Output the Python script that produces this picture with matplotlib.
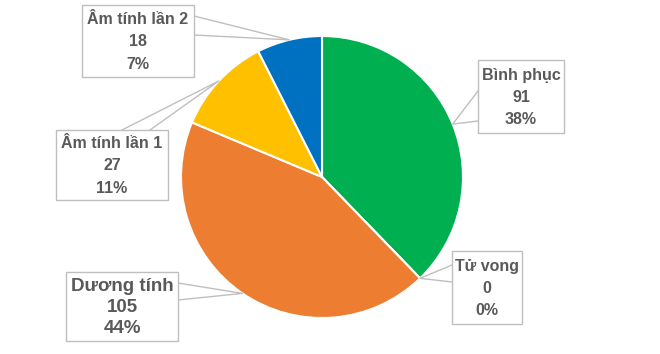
import numpy as np
import matplotlib.pyplot as plt
from matplotlib.patches import Rectangle

# du lieu
nhan = ["Bình phục", "Tử vong", "Dương tính", "Âm tính lần 1", "Âm tính lần 2"]
so_ca = [91, 0, 105, 27, 18]
mau = ["#00B050", "#A5A5A5", "#ED7D31", "#FFC000", "#0070C0"]

# vi tri hop nhan (pixel): x, y, rong, cao
hop = [(478, 60, 86, 73), (452, 251, 70, 73), (66, 272, 112, 69),
       (56, 130, 112, 70), (82, 5, 112, 72)]
# hai diem cua chan callout tren canh hop
chan = [((478, 91), (478, 121)), ((452, 265), (452, 282)),
        ((178, 283), (178, 300)), ((122, 130), (150, 130)),
        ((194, 16), (194, 35))]

fig = plt.figure(figsize=(6.6, 3.54), dpi=100)
ax = fig.add_axes([0, 0, 1, 1])

tam = (322, 177)
r = 141
wedges, _ = ax.pie(so_ca, colors=mau, startangle=-90, counterclock=True,
                   center=tam, radius=r, frame=True,
                   wedgeprops=dict(edgecolor="white", linewidth=1.5))
ax.set_xlim(0, 660)
ax.set_ylim(354, 0)
ax.set_aspect("equal")
ax.axis("off")

tong = sum(so_ca)
for i, w in enumerate(wedges):
    goc = np.deg2rad((w.theta1 + w.theta2) / 2)
    px = tam[0] + r * np.cos(goc)
    py = tam[1] + r * np.sin(goc)
    x, y, wd, h = hop[i]
    (x1, y1), (x2, y2) = chan[i]
    ax.plot([x1, px, x2], [y1, py, y2], color="#BFBFBF", lw=1, zorder=3)
    ax.add_patch(Rectangle((x, y), wd, h, facecolor="white",
                           edgecolor="#BFBFBF", lw=1, zorder=4))
    pt = f"{round(so_ca[i] / tong * 100)}%"
    txt = f"{nhan[i]}\n{so_ca[i]}\n{pt}"
    if nhan[i] == "Dương tính":
        fs, ls = 13.5, 1.3
    else:
        fs, ls = 11.5, 1.6
    ax.text(x + wd / 2, y + h / 2 + 1, txt, ha="center", va="center",
            fontsize=fs, fontweight="bold", color="#595959",
            family="Liberation Sans", linespacing=ls, zorder=5)

fig.savefig("out.png", dpi=100, facecolor="white")
